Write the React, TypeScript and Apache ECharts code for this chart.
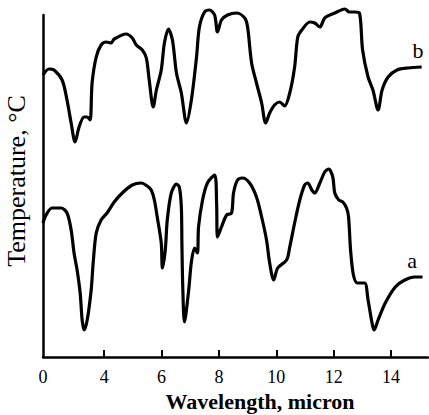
import React, { useEffect, useRef } from "react";
import * as echarts from "echarts";

// Wavelength (micron) and temperature (arbitrary units)
const waveA = [0, 0.2, 0.59, 1.18, 1.57, 1.84, 2.03, 2.23, 2.43, 2.56, 2.69, 2.89, 3.15, 3.28, 3.48, 3.8, 4.1, 4.35, 4.63, 4.98, 5.29, 5.5, 5.64, 5.75, 5.85, 5.99, 6.03, 6.13, 6.2, 6.34, 6.52, 6.62, 6.69, 6.71, 6.74, 6.8, 6.94, 7.04, 7.15, 7.25, 7.29, 7.43, 7.6, 7.85, 7.92, 7.95, 8.09, 8.27, 8.44, 8.51, 8.65, 8.83, 9.07, 9.31, 9.49, 9.66, 9.77, 9.91, 10.05, 10.36, 10.47, 10.64, 10.82, 10.99, 11.1, 11.24, 11.34, 11.52, 11.69, 11.83, 11.97, 12.04, 12.18, 12.32, 12.45, 12.52, 12.59, 12.69, 12.83, 13.08, 13.2, 13.34, 13.41, 13.55, 13.8, 14.15, 14.48, 14.83, 15.1];
const tempA = [134, 142, 149, 149, 144, 127, 104, 87, 64, 37, 27, 37, 67, 94, 124, 137, 144, 155, 164, 172, 174, 171, 167, 157, 140, 114, 89, 107, 137, 164, 173, 170, 150, 114, 70, 35, 65, 95, 109, 104, 130, 157, 174, 182, 154, 120, 130, 142, 144, 164, 177, 179, 174, 160, 140, 117, 94, 77, 89, 97, 110, 134, 157, 172, 174, 167, 164, 174, 185, 188, 180, 164, 157, 155, 149, 140, 107, 82, 74, 74, 57, 34, 27, 37, 54, 70, 77, 80, 80];

const waveB = [0, 0.39, 0.72, 1.25, 1.57, 1.84, 2.1, 2.36, 2.69, 2.89, 3.08, 3.21, 3.48, 3.8, 4.07, 4.24, 4.35, 4.77, 4.98, 5.12, 5.33, 5.47, 5.57, 5.71, 5.82, 5.99, 6.1, 6.24, 6.38, 6.52, 6.69, 6.87, 7.04, 7.22, 7.32, 7.5, 7.67, 7.85, 7.95, 8.09, 8.3, 8.62, 8.9, 9.0, 9.14, 9.31, 9.49, 9.63, 9.77, 9.94, 10.12, 10.29, 10.47, 10.64, 10.75, 10.89, 11.17, 11.34, 11.52, 11.69, 12.04, 12.39, 12.55, 12.73, 12.9, 13.01, 13.2, 13.37, 13.55, 13.69, 13.9, 14.21, 14.59, 15.07];
const tempB = [282, 288, 287, 277, 257, 234, 215, 230, 240, 240, 237, 274, 300, 312, 315, 314, 318, 323, 319, 312, 307, 299, 277, 250, 267, 287, 314, 328, 317, 284, 264, 234, 257, 300, 330, 345, 347, 342, 325, 337, 342, 344, 339, 330, 294, 274, 254, 234, 244, 252, 255, 251, 264, 290, 320, 327, 335, 334, 330, 339, 344, 348, 345, 345, 344, 307, 280, 267, 247, 267, 280, 287, 289, 290];

const tickWaves = [0, 4, 6, 8, 10, 12, 14];
const curveNames = ["a", "b"];
const xTitle = "Wavelength, micron";
const yTitle = "Temperature, °C";

// The axis is compressed below 4 micron
const BREAK = 4;
const SHRINK = 0.5332;
const toAxis = (w: number) => (w >= BREAK ? w : BREAK - (BREAK - w) * SHRINK);
const fromAxis = (u: number) => (u >= BREAK ? u : BREAK - (BREAK - u) / SHRINK);

const SERIF = "'Liberation Serif', 'DejaVu Serif', serif";

export default function App() {
  const ref = useRef<HTMLDivElement>(null);
  useEffect(() => {
    if (!ref.current) return;
    const chart = echarts.init(ref.current, null, { renderer: "svg" });
    const mk = (ws: number[], ts: number[]) => ws.map((w, i) => [toAxis(w), ts[i]]);
    const lineStyle = { color: "#000", width: 3.2 };
    chart.setOption({
      animation: false,
      backgroundColor: "#fff",
      grid: { left: 43, right: 1, top: 15, bottom: 58, containLabel: false },
      xAxis: {
        type: "value",
        min: toAxis(0),
        max: 15.29,
        axisLine: { show: true, lineStyle: { color: "#000", width: 2.5 } },
        axisTick: {
          show: true,
          inside: true,
          length: 7,
          customValues: tickWaves.filter((w) => w > 0).map(toAxis),
          lineStyle: { color: "#000", width: 2 },
        },
        axisLabel: {
          customValues: tickWaves.map(toAxis),
          formatter: (v: number) => String(Math.round(fromAxis(v))),
          color: "#000",
          fontFamily: SERIF,
          fontSize: 18,
          lineHeight: 18,
          margin: 11,
        },
        splitLine: { show: false },
      },
      yAxis: {
        type: "value",
        min: 0,
        max: 342,
        axisLine: { show: true, lineStyle: { color: "#000", width: 2.5 } },
        axisTick: { show: false },
        axisLabel: { show: false },
        splitLine: { show: false },
      },
      graphic: [
        {
          type: "text",
          x: 260,
          y: 401,
          style: {
            text: xTitle,
            fontFamily: SERIF,
            fontWeight: "bold",
            fontSize: 22,
            fill: "#000",
            align: "center",
            verticalAlign: "middle",
          },
        },
        {
          type: "text",
          x: 16,
          y: 181,
          rotation: Math.PI / 2,
          style: {
            text: yTitle,
            fontFamily: SERIF,
            fontSize: 26,
            fill: "#000",
            align: "center",
            verticalAlign: "middle",
          },
        },
        {
          type: "text",
          x: 412,
          y: 260,
          style: { text: curveNames[0], fontFamily: SERIF, fontSize: 22, fill: "#000", align: "center", verticalAlign: "middle" },
        },
        {
          type: "text",
          x: 418,
          y: 50,
          style: { text: curveNames[1], fontFamily: SERIF, fontSize: 22, fill: "#000", align: "center", verticalAlign: "middle" },
        },
      ],
      series: [
        {
          name: curveNames[0],
          type: "line",
          data: mk(waveA, tempA),
          symbol: "none",
          smooth: 0.3,
          clip: false,
          lineStyle,
        },
        {
          name: curveNames[1],
          type: "line",
          data: mk(waveB, tempB),
          symbol: "none",
          smooth: 0.3,
          clip: false,
          lineStyle,
        },
      ],
    });
    return () => chart.dispose();
  }, []);
  return (
    <div
      ref={ref}
      style={{ position: "fixed", left: 0, top: 0, width: 429, height: 415, background: "#fff" }}
    />
  );
}
